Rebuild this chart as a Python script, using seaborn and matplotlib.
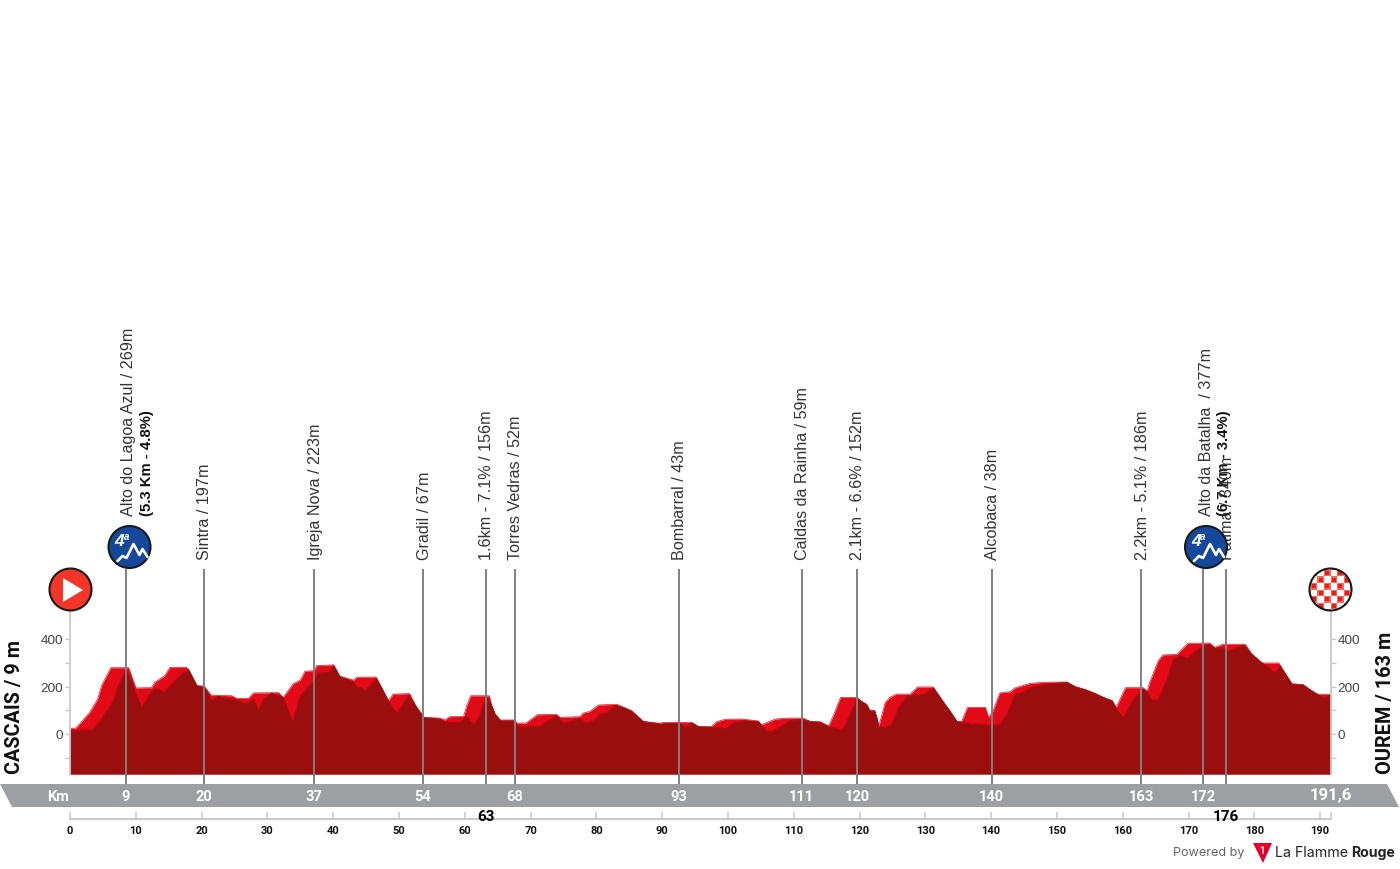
import numpy as np
import pandas as pd
import seaborn as sns
import matplotlib
matplotlib.use("Agg")
import matplotlib.pyplot as plt
from matplotlib.patches import Circle, Polygon, Rectangle

# ---------- data ----------
back_km = [0,0.9,3.0,4.2,4.8,6.2,8.9,10,12.4,12.9,14.4,15.2,17.7,19.3,20.4,21.4,24.6,25.3,27.1,27.9,31.7,32.4,33.9,35.0,35.7,37.1,37.5,40.1,41,43.1,43.6,46.5,48.4,49.1,51.6,52.7,53.8,56.2,57,57.5,
           57.8,59.8,60.3,60.9,63.7,64.1,64.6,65.4,67.6,67.9,69.3,71.0,73.9,74.5,77.5,78,79,80.3,83.1,85.4,87.1,89.7,90.2,94.5,95.5,97.5,98.3,99.6,102.1,104.6,105.1,107.2,109.2,111.4,112.5,114,115.3,116,117.1,119.7,
           120.1,121.6,122.3,122.9,123.9,124.6,125.6,127.7,128.8,131.2,132.5,133.7,134.8,135.5,136.4,139.1,139.6,140.3,141.3,142.9,143.6,145.9,148.2,151.5,152.8,154.3,155.6,157.1,158.4,159,160.4,163.1,163.7,164.1,165.4,166.1,168.2,169.9,173.2,174,175.2,178.6,179.6,181.1,183.7,185.7,187.4,188.9,191.6]
back_m = [24,25,91,147,204,279,279,194,195,218,246,281,281,201,201,164,161,150,150,173,174,154,211,227,264,267,288,291,243,227,239,240,140,168,170,112,70,67,59,70,
          73,74,119,161,161,119,84,59,59,46,46,81,83,70,73,88,95,122,125,98,53,45,49,49,32,32,52,62,63,55,39,63,67,67,53,52,34,77,154,154,
          140,98,98,31,133,154,168,168,198,198,144,98,53,52,112,112,70,98,173,178,194,213,218,219,199,187,173,154,140,112,195,195,180,218,309,333,335,382,383,365,378,378,337,299,299,211,208,168,167]
front_km = [0,3.3,4.6,6.6,7.3,8.5,9.4,10.1,10.9,11.9,12.7,13.6,14.2,15.2,16.7,18.0,19.3,20.4,21.5,22.5,24.3,25.1,26.6,27.9,28.6,29.4,30.6,32.4,33.8,35.0,37.0,37.7,39.3,40.0,41.0,43.1,43.6,44.3,44.8,46.6,48.4,49.6,51.4,52.7,53.8,56.2,57.0,57.8,
            59.3,60.0,60.5,61.4,62.3,63.2,64.1,64.6,65.4,67.4,67.9,68.6,70.2,71.2,73.0,73.9,75,77.5,78.3,79.5,80.6,81.6,82.8,84.1,85.4,87.1,89.7,92.6,93.5,94.5,95.5,97.8,99.8,100.8,102.3,104.6,105.9,106.9,109.4,111.3,112.5,114,115.3,117.3,118,119.6,
            121.1,121.6,122.3,122.7,122.9,123.9,124.9,125.9,127.2,129.7,131.2,132.5,133.7,134.8,135.8,136.8,138.3,139.6,141.3,142.4,143.6,144.7,146.2,148.5,151.5,152.8,154.3,155.6,157.1,158.4,159,160.1,161.4,163,163.7,164.4,165.4,166.7,167.7,168.7,169.8,171.8,173,174,175,176,178.3,179.6,181.1,183.1,183.9,185.7,187.4,188.9,190.5,191.6]
front_m = [14,18,56,140,204,271,218,161,112,161,189,189,175,204,246,274,204,201,140,159,147,147,126,147,98,147,173,154,52,161,225,257,260,288,243,218,194,196,182,234,140,87,161,112,70,63,52,49,
           49,70,70,38,84,161,119,84,56,56,38,28,32,32,63,77,45,67,46,56,84,91,119,112,94,53,42,46,28,46,31,28,24,46,56,53,10,14,56,63,53,49,32,17,49,150,
           125,98,98,63,31,28,42,112,161,168,194,144,98,53,49,42,42,38,42,84,168,175,199,211,218,199,187,173,154,140,105,70,140,189,180,140,147,232,316,330,319,365,379,361,365,348,375,337,302,257,288,211,208,180,152,164]

marker_km = [8.5,20.36,37.1,53.65,63.2,67.6,92.55,111.2,119.6,140.1,162.8,172.2,175.7]
band_labels = ["9","20","37","54","","68","93","111","120","140","163","172",""]
place_labels = ["Alto do Lagoa Azul / 269m","Sintra / 197m","Igreja Nova / 223m","Gradil / 67m",
                "1.6km - 7.1% / 156m","Torres Vedras / 52m","Bombarral / 43m","Caldas da Rainha / 59m",
                "2.1km - 6.6% / 152m","Alcobaca / 38m","2.2km - 5.1% / 186m","Alto da Batalha  / 377m","Fatima / 340m"]
climb_detail = {0:"(5.3 Km - 4.8%)", 11:"(6.7 Km - 3.4%)"}
drop_labels = {63.2:"63", 175.7:"176"}
km_ticks = list(range(0,191,10))
elev_major = [0,200,400]
elev_minor = [-100,100,300]
start_name, finish_name = "CASCAIS / 9 m", "OUREM / 163 m"
total_km = "191,6"
TOTAL = 191.6

# ---------- layout ----------
sns.set_theme(style="white")
plt.rcParams["font.family"] = ["Liberation Sans", "DejaVu Sans"]
NARROW = ["Roboto", "DejaVu Sans"]
W, H = 1400, 870
fig = plt.figure(figsize=(14, 8.7), dpi=100, facecolor="white")
top_px, base_px, x0_px, x1_px = 612, 775, 70, 1330.7
ax = fig.add_axes([x0_px/W, (H-base_px)/H, (x1_px-x0_px)/W, (base_px-top_px)/H])
Y0, PXM = 735, 0.2375
m_of = lambda py: (Y0-py)/PXM
ax.set_xlim(0, TOTAL)
ax.set_ylim(m_of(base_px), m_of(top_px))

BRIGHT, DARK = "#e30a17", "#9a0f0d"
back = pd.DataFrame({"km":back_km, "m":back_m})
front = pd.DataFrame({"km":front_km, "m":front_m})
base = m_of(base_px)
ax.fill_between(back.km, back.m, base, color=BRIGHT, lw=0, zorder=1)
sns.lineplot(data=back, x="km", y="m", ax=ax, color=BRIGHT, lw=0.5, zorder=1, estimator=None, sort=False)
ax.fill_between(front.km, front.m, base, color=DARK, lw=0, zorder=2)
sns.lineplot(data=front, x="km", y="m", ax=ax, color=DARK, lw=0.5, zorder=2, estimator=None, sort=False)
ax.set_xlim(0, TOTAL)
ax.set_ylim(m_of(base_px), m_of(top_px))
ax.set_xlabel(""); ax.set_ylabel("")

# elevation axes
GREY = "#c9c9c9"
for s in ["top","bottom"]:
    ax.spines[s].set_visible(False)
for s in ["left","right"]:
    ax.spines[s].set_color(GREY); ax.spines[s].set_linewidth(1.3)
ax.set_xticks([])
ax.set_yticks(elev_major)
ax.set_yticks(elev_minor, minor=True)
ax.tick_params(axis="y", which="both", left=True, right=True, labelleft=True, labelright=True,
               color=GREY, length=3.5, width=1, labelsize=9.7, labelcolor="#444444", pad=1.5)
ax.patch.set_alpha(0)

# markers
ax.vlines(marker_km, m_of(785), m_of(570), color="#808080", lw=1.4, zorder=5, clip_on=False)

# overlay in pixel space for the decorations
ov = fig.add_axes([0,0,1,1], zorder=3)
ov.set_xlim(0,W); ov.set_ylim(H,0); ov.axis("off")
ov_px = lambda km: x0_px + km*6.58
BAND = "#9da0a3"
ov.add_patch(Polygon([(0,785),(1387,785),(1399,808),(12,808)], color=BAND, lw=0, zorder=1))
ov.text(58,797,"Km",color="white",family=NARROW,weight="bold",size=10.5,ha="center",va="center")
for k,l in zip(marker_km, band_labels):
    if l:
        ov.text(ov_px(k),797,l,color="white",family=NARROW,weight="bold",size=10.5,ha="center",va="center")
ov.text(1331,796,total_km,color="white",family=NARROW,weight="bold",size=12,ha="center",va="center")
for k,l in drop_labels.items():
    ov.text(ov_px(k),817,l,color="black",family=NARROW,weight="bold",size=11,ha="center",va="center")

# place labels
for i,(k,l) in enumerate(zip(marker_km, place_labels)):
    if i in climb_detail:
        ov.text(ov_px(k)+3,516,l,rotation=90,ha="center",va="bottom",size=11.6,color="#333333")
        ov.text(ov_px(k)+21,516,climb_detail[i],rotation=90,ha="center",va="bottom",size=10.7,weight="bold",color="#111111")
    else:
        ov.text(ov_px(k)+1,560,l,rotation=90,ha="center",va="bottom",size=11.6,color="#333333")

ov.text(15,774,start_name,rotation=90,ha="center",va="bottom",family=NARROW,weight="bold",size=14.3,color="#111111")
ov.text(1385,774,finish_name,rotation=90,ha="center",va="bottom",family=NARROW,weight="bold",size=14.3,color="#111111")

# climb badges
def badge(cx,cy):
    ov.add_patch(Circle((cx,cy),21,fc="#15479a",ec="#1a1a1a",lw=1.5,zorder=6))
    dx=[-12,-7,-3,4,10,13,18]; dy=[14,9,11,-3,8,2,10]
    ov.plot([cx+a for a in dx],[cy+b for b in dy],color="white",lw=1.9,zorder=7)
    ov.text(cx-10,cy-6,"4",color="white",size=12.5,weight="bold",style="italic",ha="center",va="center",zorder=7)
    ov.text(cx-3,cy-11,"a",color="white",size=7,weight="bold",style="italic",ha="center",va="center",zorder=7)
badge(129.5,548); badge(1206,548)

# start
ov.add_patch(Circle((70.5,590.5),21,fc="#f43527",ec="#1a1a1a",lw=1.5,zorder=6))
ov.add_patch(Polygon([(63,579),(83,591),(63,603)],color="white",lw=0,zorder=7))
# finish
clip = Circle((1330.5,590.5),21,fc="white",ec="none",zorder=6); ov.add_patch(clip)
size = 6.6
for r in range(-4,4):
    for c in range(-4,4):
        if (r+c)%2==0:
            for s,col in ((size,"#f6685c"),(size*0.6,"#ea1c14")):
                off=(size-s)/2
                p=Rectangle((1330.5+c*size+off,590.5+r*size+off),s,s,fc=col,ec="none",zorder=7)
                ov.add_patch(p); p.set_clip_path(clip)
ov.add_patch(Circle((1330.5,590.5),21,fc="none",ec="#1a1a1a",lw=1.5,zorder=8))

# powered by
ov.text(1173,853,"Powered by",size=9.1,color="#666666",family="Inter",ha="left",va="center")
ov.add_patch(Polygon([(1253,844),(1272,844),(1263,864)],color="#e4002b",lw=0))
ov.text(1262.5,851,"1",color="white",size=7,weight="bold",ha="center",va="center",family=NARROW)
ov.text(1275,853,"La Flamme",size=10.2,color="#222222",family="Inter",ha="left",va="center")
ov.text(1395,853,"Rouge",size=10.2,color="#222222",family="Inter",weight="bold",ha="right",va="center")

# km ruler
kx = fig.add_axes([x0_px/W,(H-820)/H,(x1_px-x0_px)/W,0.0005],zorder=2)
kx.set_xlim(0,TOTAL); kx.set_yticks([])
for s in ["top","left","right"]:
    kx.spines[s].set_visible(False)
kx.spines["bottom"].set_color(GREY); kx.spines["bottom"].set_linewidth(1.5)
kx.set_xticks(km_ticks+[TOTAL], [str(t) for t in km_ticks]+[""])
kx.tick_params(axis="x",direction="in",bottom=True,length=5,width=1.1,color=GREY,labelsize=8,pad=4,labelcolor="#111111")
for t in kx.get_xticklabels():
    t.set_family(NARROW); t.set_weight("bold")

fig.savefig("out.png",dpi=100)
